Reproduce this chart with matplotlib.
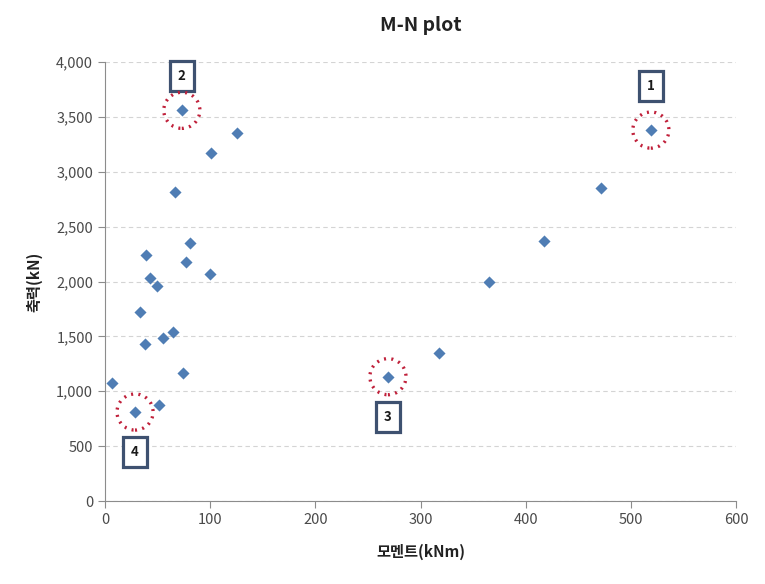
import matplotlib
matplotlib.use("Agg")
import matplotlib.pyplot as plt

plt.rcParams['font.family'] = ['Noto Sans CJK KR', 'DejaVu Sans']

# moment (kNm), axial force (kN)
moment = [519, 73, 125.5, 100.8, 66.6, 80.8, 38.7, 76.7, 100, 42.8, 49.7,
          33.3, 65, 55.5, 37.7, 74.2, 7, 51.3, 28.5,
          472, 417, 365, 318, 269]
axial = [3380, 3560, 3350, 3168, 2813, 2348, 2238, 2178, 2068, 2033, 1962,
         1719, 1540, 1488, 1430, 1163, 1078, 877, 811,
         2855, 2369, 1998, 1346, 1133]

# marked points: label, index in data, vertical offset of the box (px)
marks = ['1', '2', '3', '4']
mark_idx = [0, 1, 23, 18]
mark_dy = [44, 34, -40, -40]

fig = plt.figure(figsize=(7.65, 5.84), dpi=100)
ax = fig.add_axes([0.1373, 0.1421, 0.8248, 0.7517])

ax.scatter(moment, axial, marker='D', s=38, color='#4f7db4', zorder=3, linewidths=0)

mx = [moment[i] for i in mark_idx]
my = [axial[i] for i in mark_idx]
ax.scatter(mx, my, s=26**2, facecolors='none', edgecolors='#c0203a',
           linewidths=2.4, linestyles=(0, (0.6, 1.6)), zorder=4)

for lab, x, y, dy in zip(marks, mx, my, mark_dy):
    ax.annotate(lab, (x, y), xytext=(0, dy), textcoords='offset pixels',
                ha='center', va='center', fontsize=9.5, fontweight='bold',
                color='#1a1a1a',
                bbox=dict(boxstyle='square,pad=0.6', fc='white',
                          ec='#3e5170', lw=2.3))

ax.set_xlim(0, 600)
ax.set_ylim(0, 4000)
ax.set_xticks(range(0, 601, 100))
ax.set_yticks(range(0, 4001, 500))
ax.set_yticklabels([f'{v:,}' for v in range(0, 4001, 500)])

ax.grid(axis='y', color='#d4d4d4', linestyle=(0, (4, 3)), linewidth=0.8)
ax.set_axisbelow(True)
for s in ['top', 'right']:
    ax.spines[s].set_visible(False)
for s in ['left', 'bottom']:
    ax.spines[s].set_color('#8c8c8c')
ax.tick_params(colors='#8c8c8c', labelcolor='#4a4a4a', labelsize=10.5, length=5)

ax.set_title('M-N plot', fontsize=14, fontweight='bold', color='#222222', pad=22)
ax.set_xlabel('모멘트(kNm)', fontsize=11, fontweight='bold', color='#222222', labelpad=12)
ax.set_ylabel('축력(kN)', fontsize=11, fontweight='bold', color='#222222', labelpad=10)

fig.savefig('out.png', dpi=100)
